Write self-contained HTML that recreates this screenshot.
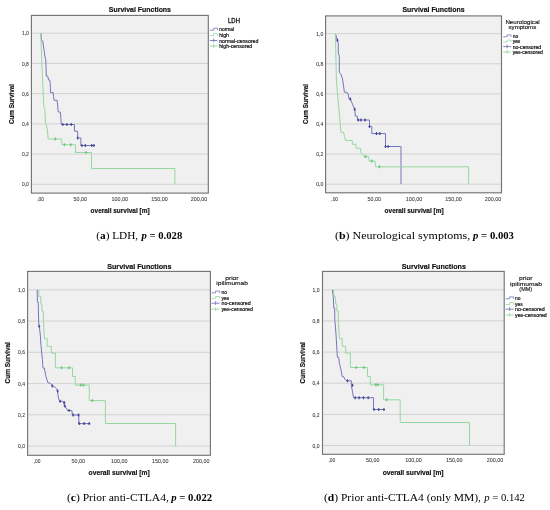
<!DOCTYPE html><html><head><meta charset="utf-8"><style>html,body{margin:0;padding:0;background:#fff;width:550px;height:510px;overflow:hidden}svg{display:block;filter:blur(0.5px)}text{font-family:"Liberation Sans", sans-serif}</style></head><body>
<svg width="550" height="510" viewBox="0 0 550 510">
<rect width="550" height="510" fill="#ffffff"/>
<rect x="31.4" y="15.4" width="176.9" height="177.7" fill="#f0f0f0"/>
<line x1="31.4" y1="184.3" x2="208.3" y2="184.3" stroke="#d2d2d2" stroke-width="1"/>
<text x="28.9" y="186.4" font-size="5.2" text-anchor="end" font-weight="normal" fill="#3a3a3a" textLength="7.0" lengthAdjust="spacingAndGlyphs" stroke="#3a3a3a" stroke-width="0.08">0,0</text>
<line x1="31.4" y1="154.1" x2="208.3" y2="154.1" stroke="#d2d2d2" stroke-width="1"/>
<text x="28.9" y="156.2" font-size="5.2" text-anchor="end" font-weight="normal" fill="#3a3a3a" textLength="7.0" lengthAdjust="spacingAndGlyphs" stroke="#3a3a3a" stroke-width="0.08">0,2</text>
<line x1="31.4" y1="123.9" x2="208.3" y2="123.9" stroke="#d2d2d2" stroke-width="1"/>
<text x="28.9" y="126.0" font-size="5.2" text-anchor="end" font-weight="normal" fill="#3a3a3a" textLength="7.0" lengthAdjust="spacingAndGlyphs" stroke="#3a3a3a" stroke-width="0.08">0,4</text>
<line x1="31.4" y1="93.6" x2="208.3" y2="93.6" stroke="#d2d2d2" stroke-width="1"/>
<text x="28.9" y="95.7" font-size="5.2" text-anchor="end" font-weight="normal" fill="#3a3a3a" textLength="7.0" lengthAdjust="spacingAndGlyphs" stroke="#3a3a3a" stroke-width="0.08">0,6</text>
<line x1="31.4" y1="63.4" x2="208.3" y2="63.4" stroke="#d2d2d2" stroke-width="1"/>
<text x="28.9" y="65.5" font-size="5.2" text-anchor="end" font-weight="normal" fill="#3a3a3a" textLength="7.0" lengthAdjust="spacingAndGlyphs" stroke="#3a3a3a" stroke-width="0.08">0,8</text>
<line x1="31.4" y1="33.2" x2="208.3" y2="33.2" stroke="#d2d2d2" stroke-width="1"/>
<text x="28.9" y="35.3" font-size="5.2" text-anchor="end" font-weight="normal" fill="#3a3a3a" textLength="7.0" lengthAdjust="spacingAndGlyphs" stroke="#3a3a3a" stroke-width="0.08">1,0</text>
<text x="40.6" y="200.5" font-size="5.5" text-anchor="middle" font-weight="normal" fill="#3a3a3a" textLength="6.8" lengthAdjust="spacingAndGlyphs" stroke="#3a3a3a" stroke-width="0.08">,00</text>
<text x="80.2" y="200.5" font-size="5.5" text-anchor="middle" font-weight="normal" fill="#3a3a3a" textLength="13.5" lengthAdjust="spacingAndGlyphs" stroke="#3a3a3a" stroke-width="0.08">50,00</text>
<text x="119.8" y="200.5" font-size="5.5" text-anchor="middle" font-weight="normal" fill="#3a3a3a" textLength="16.5" lengthAdjust="spacingAndGlyphs" stroke="#3a3a3a" stroke-width="0.08">100,00</text>
<text x="159.5" y="200.5" font-size="5.5" text-anchor="middle" font-weight="normal" fill="#3a3a3a" textLength="16.5" lengthAdjust="spacingAndGlyphs" stroke="#3a3a3a" stroke-width="0.08">150,00</text>
<text x="199.1" y="200.5" font-size="5.5" text-anchor="middle" font-weight="normal" fill="#3a3a3a" textLength="16.5" lengthAdjust="spacingAndGlyphs" stroke="#3a3a3a" stroke-width="0.08">200,00</text>
<rect x="31.4" y="15.4" width="176.9" height="177.7" fill="none" stroke="#707070" stroke-width="1.1"/>
<path d="M40.9,33.2 L41.3,37 L41.6,41 H42.8 L43.3,45 L44.3,52 L45,57 L45.8,60 L46.3,76 H47.7 L48.5,80 H49.7 L50.3,84 L50.5,92.4 H53.1 L53.5,96.3 L54.1,100.3 H57.1 L57.6,105 L58.2,112 H60.3 L60.9,118.5 L61.3,124.5 H74.5 V131.2 H77.7 V138 H80.9 V145.5 H94.5" fill="none" stroke="#7676bc" stroke-width="1" stroke-linejoin="miter"/>
<path d="M62.8,123.0 V126.0 M61.699999999999996,124.5 H63.9" stroke="#46469a" stroke-width="1.1"/>
<path d="M66.9,123.0 V126.0 M65.80000000000001,124.5 H68.0" stroke="#46469a" stroke-width="1.1"/>
<path d="M71.3,123.0 V126.0 M70.2,124.5 H72.39999999999999" stroke="#46469a" stroke-width="1.1"/>
<path d="M77.7,136.5 V139.5 M76.60000000000001,138 H78.8" stroke="#46469a" stroke-width="1.1"/>
<path d="M81.9,144.0 V147.0 M80.80000000000001,145.5 H83.0" stroke="#46469a" stroke-width="1.1"/>
<path d="M85.3,144.0 V147.0 M84.2,145.5 H86.39999999999999" stroke="#46469a" stroke-width="1.1"/>
<path d="M91.7,144.0 V147.0 M90.60000000000001,145.5 H92.8" stroke="#46469a" stroke-width="1.1"/>
<path d="M93.9,144.0 V147.0 M92.80000000000001,145.5 H95.0" stroke="#46469a" stroke-width="1.1"/>
<path d="M40.8,33.2 L41.7,60 L43.8,106.7 L44.7,108.3 L45.5,123.3 L46.3,125 L47.2,128.3 L48.2,139 H61.8 V144.7 H75.5 V152.5 H91.5 V168.5 H174.9 V184.3" fill="none" stroke="#96d8a2" stroke-width="1" stroke-linejoin="miter"/>
<path d="M55.3,137.5 V140.5 M54.199999999999996,139 H56.4" stroke="#6cc47e" stroke-width="1.1"/>
<path d="M64.4,143.2 V146.2 M63.300000000000004,144.7 H65.5" stroke="#6cc47e" stroke-width="1.1"/>
<path d="M70.8,143.2 V146.2 M69.7,144.7 H71.89999999999999" stroke="#6cc47e" stroke-width="1.1"/>
<path d="M86.2,151.0 V154.0 M85.10000000000001,152.5 H87.3" stroke="#6cc47e" stroke-width="1.1"/>
<text x="108.8" y="12.3" font-size="7.8" text-anchor="start" font-weight="bold" fill="#111" textLength="62.2" lengthAdjust="spacingAndGlyphs" stroke="#111" stroke-width="0.2">Survival Functions</text>
<text x="90.6" y="212.6" font-size="6.3" text-anchor="start" font-weight="bold" fill="#111" textLength="59.0" lengthAdjust="spacingAndGlyphs" stroke="#111" stroke-width="0.16">overall survival [m]</text>
<text x="0" y="0" font-size="6.3" font-weight="bold" fill="#111" stroke="#111" stroke-width="0.16" text-anchor="middle" textLength="40.0" lengthAdjust="spacingAndGlyphs" transform="translate(14.2,104.0) rotate(-90)">Cum Survival</text>
<text x="228.1" y="22.9" font-size="6.3" text-anchor="start" font-weight="normal" fill="#111" textLength="11.8" lengthAdjust="spacingAndGlyphs" stroke="#111" stroke-width="0.3">LDH</text>
<path d="M209.9,30.2 H213.7 V28.3 H217.5 V30.3" fill="none" stroke="#7676bc" stroke-width="0.8"/>
<text x="219.2" y="31.4" font-size="5.4" text-anchor="start" font-weight="normal" fill="#111" textLength="15.0" lengthAdjust="spacingAndGlyphs" stroke="#111" stroke-width="0.2">normal</text>
<path d="M209.9,35.6 H213.7 V33.7 H217.5 V35.7" fill="none" stroke="#96d8a2" stroke-width="0.8"/>
<text x="219.2" y="36.8" font-size="5.4" text-anchor="start" font-weight="normal" fill="#111" textLength="9.8" lengthAdjust="spacingAndGlyphs" stroke="#111" stroke-width="0.2">high</text>
<path d="M209.9,40.5 H217.5 M213.7,38.5 V42.2" fill="none" stroke="#7676bc" stroke-width="0.9"/>
<text x="219.2" y="42.6" font-size="5.4" text-anchor="start" font-weight="normal" fill="#111" textLength="39.2" lengthAdjust="spacingAndGlyphs" stroke="#111" stroke-width="0.2">normal-censored</text>
<path d="M209.9,46.1 H217.5 M213.7,44.1 V47.800000000000004" fill="none" stroke="#96d8a2" stroke-width="0.9"/>
<text x="219.2" y="48.2" font-size="5.4" text-anchor="start" font-weight="normal" fill="#111" textLength="33.0" lengthAdjust="spacingAndGlyphs" stroke="#111" stroke-width="0.2">high-censored</text>
<rect x="325.6" y="15.9" width="175.9" height="176.9" fill="#f0f0f0"/>
<line x1="325.6" y1="184.2" x2="501.5" y2="184.2" stroke="#d2d2d2" stroke-width="1"/>
<text x="323.3" y="186.3" font-size="5.2" text-anchor="end" font-weight="normal" fill="#3a3a3a" textLength="7.0" lengthAdjust="spacingAndGlyphs" stroke="#3a3a3a" stroke-width="0.08">0,0</text>
<line x1="325.6" y1="154.1" x2="501.5" y2="154.1" stroke="#d2d2d2" stroke-width="1"/>
<text x="323.3" y="156.2" font-size="5.2" text-anchor="end" font-weight="normal" fill="#3a3a3a" textLength="7.0" lengthAdjust="spacingAndGlyphs" stroke="#3a3a3a" stroke-width="0.08">0,2</text>
<line x1="325.6" y1="124.0" x2="501.5" y2="124.0" stroke="#d2d2d2" stroke-width="1"/>
<text x="323.3" y="126.1" font-size="5.2" text-anchor="end" font-weight="normal" fill="#3a3a3a" textLength="7.0" lengthAdjust="spacingAndGlyphs" stroke="#3a3a3a" stroke-width="0.08">0,4</text>
<line x1="325.6" y1="93.9" x2="501.5" y2="93.9" stroke="#d2d2d2" stroke-width="1"/>
<text x="323.3" y="96.0" font-size="5.2" text-anchor="end" font-weight="normal" fill="#3a3a3a" textLength="7.0" lengthAdjust="spacingAndGlyphs" stroke="#3a3a3a" stroke-width="0.08">0,6</text>
<line x1="325.6" y1="63.8" x2="501.5" y2="63.8" stroke="#d2d2d2" stroke-width="1"/>
<text x="323.3" y="65.9" font-size="5.2" text-anchor="end" font-weight="normal" fill="#3a3a3a" textLength="7.0" lengthAdjust="spacingAndGlyphs" stroke="#3a3a3a" stroke-width="0.08">0,8</text>
<line x1="325.6" y1="33.7" x2="501.5" y2="33.7" stroke="#d2d2d2" stroke-width="1"/>
<text x="323.3" y="35.8" font-size="5.2" text-anchor="end" font-weight="normal" fill="#3a3a3a" textLength="7.0" lengthAdjust="spacingAndGlyphs" stroke="#3a3a3a" stroke-width="0.08">1,0</text>
<text x="334.7" y="200.5" font-size="5.5" text-anchor="middle" font-weight="normal" fill="#3a3a3a" textLength="6.8" lengthAdjust="spacingAndGlyphs" stroke="#3a3a3a" stroke-width="0.08">,00</text>
<text x="374.3" y="200.5" font-size="5.5" text-anchor="middle" font-weight="normal" fill="#3a3a3a" textLength="13.5" lengthAdjust="spacingAndGlyphs" stroke="#3a3a3a" stroke-width="0.08">50,00</text>
<text x="413.9" y="200.5" font-size="5.5" text-anchor="middle" font-weight="normal" fill="#3a3a3a" textLength="16.5" lengthAdjust="spacingAndGlyphs" stroke="#3a3a3a" stroke-width="0.08">100,00</text>
<text x="453.4" y="200.5" font-size="5.5" text-anchor="middle" font-weight="normal" fill="#3a3a3a" textLength="16.5" lengthAdjust="spacingAndGlyphs" stroke="#3a3a3a" stroke-width="0.08">150,00</text>
<text x="493.0" y="200.5" font-size="5.5" text-anchor="middle" font-weight="normal" fill="#3a3a3a" textLength="16.5" lengthAdjust="spacingAndGlyphs" stroke="#3a3a3a" stroke-width="0.08">200,00</text>
<rect x="325.6" y="15.9" width="175.9" height="176.9" fill="none" stroke="#707070" stroke-width="1.1"/>
<path d="M335.4,33.7 L337.4,40.3 L338.3,44 L338.3,53 L339.3,56 L339.3,72.2 L341.3,75 L342.7,80 L344.4,92.2 H345.8 L347.8,93 L349.2,99 H350.3 L352,103 L354.7,109.3 L355.4,116.2 H357.4 V120 H369.5 V126.5 H371.8 V133.6 H385.5 V146.5 H401 V184.2" fill="none" stroke="#7676bc" stroke-width="1" stroke-linejoin="miter"/>
<path d="M337.4,38.8 V41.8 M336.29999999999995,40.3 H338.5" stroke="#46469a" stroke-width="1.1"/>
<path d="M350.3,97.5 V100.5 M349.2,99 H351.40000000000003" stroke="#46469a" stroke-width="1.1"/>
<path d="M354.7,107.8 V110.8 M353.59999999999997,109.3 H355.8" stroke="#46469a" stroke-width="1.1"/>
<path d="M358.1,118.5 V121.5 M357.0,120 H359.20000000000005" stroke="#46469a" stroke-width="1.1"/>
<path d="M360.9,118.5 V121.5 M359.79999999999995,120 H362.0" stroke="#46469a" stroke-width="1.1"/>
<path d="M365,118.5 V121.5 M363.9,120 H366.1" stroke="#46469a" stroke-width="1.1"/>
<path d="M369.5,125.0 V128.0 M368.4,126.5 H370.6" stroke="#46469a" stroke-width="1.1"/>
<path d="M376.5,132.1 V135.1 M375.4,133.6 H377.6" stroke="#46469a" stroke-width="1.1"/>
<path d="M379.8,132.1 V135.1 M378.7,133.6 H380.90000000000003" stroke="#46469a" stroke-width="1.1"/>
<path d="M385.5,145.0 V148.0 M384.4,146.5 H386.6" stroke="#46469a" stroke-width="1.1"/>
<path d="M388.2,145.0 V148.0 M387.09999999999997,146.5 H389.3" stroke="#46469a" stroke-width="1.1"/>
<path d="M335.4,33.7 L336.4,80 L337.5,93.5 L339.6,116.2 L340.9,132.3 H343.6 L344.5,136.4 L345.5,140.5 H352.3 V144.3 H355.9 L356.4,148.4 H360.5 L360.9,152.3 L362.7,154.5 L364.1,156.6 H368.6 L369.1,161.1 H375 L375.5,166.8 H468.6 V184.2" fill="none" stroke="#96d8a2" stroke-width="1" stroke-linejoin="miter"/>
<path d="M365.5,155.1 V158.1 M364.4,156.6 H366.6" stroke="#6cc47e" stroke-width="1.1"/>
<path d="M371.8,159.6 V162.6 M370.7,161.1 H372.90000000000003" stroke="#6cc47e" stroke-width="1.1"/>
<path d="M379.5,165.3 V168.3 M378.4,166.8 H380.6" stroke="#6cc47e" stroke-width="1.1"/>
<text x="402.5" y="12.3" font-size="7.8" text-anchor="start" font-weight="bold" fill="#111" textLength="62.0" lengthAdjust="spacingAndGlyphs" stroke="#111" stroke-width="0.2">Survival Functions</text>
<text x="384.6" y="212.6" font-size="6.3" text-anchor="start" font-weight="bold" fill="#111" textLength="59.0" lengthAdjust="spacingAndGlyphs" stroke="#111" stroke-width="0.16">overall survival [m]</text>
<text x="0" y="0" font-size="6.3" font-weight="bold" fill="#111" stroke="#111" stroke-width="0.16" text-anchor="middle" textLength="40.0" lengthAdjust="spacingAndGlyphs" transform="translate(308.2,104.0) rotate(-90)">Cum Survival</text>
<text x="505.4" y="23.7" font-size="6.05" text-anchor="start" font-weight="normal" fill="#111" textLength="34.3" lengthAdjust="spacingAndGlyphs" stroke="#111" stroke-width="0.13">Neurological</text>
<text x="508.6" y="29.3" font-size="6.05" text-anchor="start" font-weight="normal" fill="#111" textLength="27.6" lengthAdjust="spacingAndGlyphs" stroke="#111" stroke-width="0.13">symptoms</text>
<path d="M503.2,36.8 H507.1 V34.9 H511.0 V36.9" fill="none" stroke="#7676bc" stroke-width="0.8"/>
<text x="512.7" y="38.0" font-size="5.4" text-anchor="start" font-weight="normal" fill="#111" textLength="5.5" lengthAdjust="spacingAndGlyphs" stroke="#111" stroke-width="0.2">no</text>
<path d="M503.2,42.0 H507.1 V40.1 H511.0 V42.1" fill="none" stroke="#96d8a2" stroke-width="0.8"/>
<text x="512.7" y="43.2" font-size="5.4" text-anchor="start" font-weight="normal" fill="#111" textLength="7.6" lengthAdjust="spacingAndGlyphs" stroke="#111" stroke-width="0.2">yes</text>
<path d="M503.2,46.6 H511.0 M507.1,44.6 V48.300000000000004" fill="none" stroke="#7676bc" stroke-width="0.9"/>
<text x="512.7" y="48.7" font-size="5.4" text-anchor="start" font-weight="normal" fill="#111" textLength="28.4" lengthAdjust="spacingAndGlyphs" stroke="#111" stroke-width="0.2">no-censored</text>
<path d="M503.2,52.0 H511.0 M507.1,50.0 V53.7" fill="none" stroke="#96d8a2" stroke-width="0.9"/>
<text x="512.7" y="54.1" font-size="5.4" text-anchor="start" font-weight="normal" fill="#111" textLength="30.2" lengthAdjust="spacingAndGlyphs" stroke="#111" stroke-width="0.2">yes-censored</text>
<rect x="27.6" y="271.4" width="182.8" height="183.9" fill="#f0f0f0"/>
<line x1="27.6" y1="446.1" x2="210.4" y2="446.1" stroke="#d2d2d2" stroke-width="1"/>
<text x="25.0" y="448.2" font-size="5.2" text-anchor="end" font-weight="normal" fill="#3a3a3a" textLength="7.0" lengthAdjust="spacingAndGlyphs" stroke="#3a3a3a" stroke-width="0.08">0,0</text>
<line x1="27.6" y1="414.8" x2="210.4" y2="414.8" stroke="#d2d2d2" stroke-width="1"/>
<text x="25.0" y="416.9" font-size="5.2" text-anchor="end" font-weight="normal" fill="#3a3a3a" textLength="7.0" lengthAdjust="spacingAndGlyphs" stroke="#3a3a3a" stroke-width="0.08">0,2</text>
<line x1="27.6" y1="383.6" x2="210.4" y2="383.6" stroke="#d2d2d2" stroke-width="1"/>
<text x="25.0" y="385.7" font-size="5.2" text-anchor="end" font-weight="normal" fill="#3a3a3a" textLength="7.0" lengthAdjust="spacingAndGlyphs" stroke="#3a3a3a" stroke-width="0.08">0,4</text>
<line x1="27.6" y1="352.3" x2="210.4" y2="352.3" stroke="#d2d2d2" stroke-width="1"/>
<text x="25.0" y="354.4" font-size="5.2" text-anchor="end" font-weight="normal" fill="#3a3a3a" textLength="7.0" lengthAdjust="spacingAndGlyphs" stroke="#3a3a3a" stroke-width="0.08">0,6</text>
<line x1="27.6" y1="321.1" x2="210.4" y2="321.1" stroke="#d2d2d2" stroke-width="1"/>
<text x="25.0" y="323.2" font-size="5.2" text-anchor="end" font-weight="normal" fill="#3a3a3a" textLength="7.0" lengthAdjust="spacingAndGlyphs" stroke="#3a3a3a" stroke-width="0.08">0,8</text>
<line x1="27.6" y1="289.8" x2="210.4" y2="289.8" stroke="#d2d2d2" stroke-width="1"/>
<text x="25.0" y="291.9" font-size="5.2" text-anchor="end" font-weight="normal" fill="#3a3a3a" textLength="7.0" lengthAdjust="spacingAndGlyphs" stroke="#3a3a3a" stroke-width="0.08">1,0</text>
<text x="37.1" y="462.5" font-size="5.5" text-anchor="middle" font-weight="normal" fill="#3a3a3a" textLength="6.8" lengthAdjust="spacingAndGlyphs" stroke="#3a3a3a" stroke-width="0.08">,00</text>
<text x="78.2" y="462.5" font-size="5.5" text-anchor="middle" font-weight="normal" fill="#3a3a3a" textLength="13.5" lengthAdjust="spacingAndGlyphs" stroke="#3a3a3a" stroke-width="0.08">50,00</text>
<text x="119.2" y="462.5" font-size="5.5" text-anchor="middle" font-weight="normal" fill="#3a3a3a" textLength="16.5" lengthAdjust="spacingAndGlyphs" stroke="#3a3a3a" stroke-width="0.08">100,00</text>
<text x="160.2" y="462.5" font-size="5.5" text-anchor="middle" font-weight="normal" fill="#3a3a3a" textLength="16.5" lengthAdjust="spacingAndGlyphs" stroke="#3a3a3a" stroke-width="0.08">150,00</text>
<text x="201.3" y="462.5" font-size="5.5" text-anchor="middle" font-weight="normal" fill="#3a3a3a" textLength="16.5" lengthAdjust="spacingAndGlyphs" stroke="#3a3a3a" stroke-width="0.08">200,00</text>
<rect x="27.6" y="271.4" width="182.8" height="183.9" fill="none" stroke="#707070" stroke-width="1.1"/>
<path d="M37.2,289.8 L37.4,302 H38.2 L38.5,315 L38.8,324.2 L39.3,326.2 L40.3,335 L41,345.6 L42.4,359.3 L43,368.2 H44.4 L45.8,375.8 L47.8,382.6 L50.5,383.4 L52.5,385.8 L54.6,386.9 L56.7,388.9 L57.6,391 L58,395.1 L58.7,399.2 L60.1,401.3 H62.8 L64.2,402.6 V405.4 L66.3,408.1 L67.6,410.5 H71.8 L72.4,415 H78.8 V423.6 H89.6" fill="none" stroke="#7676bc" stroke-width="1" stroke-linejoin="miter"/>
<path d="M39.2,324.8 V327.8 M38.1,326.3 H40.300000000000004" stroke="#46469a" stroke-width="1.1"/>
<path d="M52.3,384.5 V387.5 M51.199999999999996,386 H53.4" stroke="#46469a" stroke-width="1.1"/>
<path d="M57.6,389.5 V392.5 M56.5,391 H58.7" stroke="#46469a" stroke-width="1.1"/>
<path d="M60.1,399.8 V402.8 M59.0,401.3 H61.2" stroke="#46469a" stroke-width="1.1"/>
<path d="M64.2,401.1 V404.1 M63.1,402.6 H65.3" stroke="#46469a" stroke-width="1.1"/>
<path d="M64.9,404.6 V407.6 M63.800000000000004,406.1 H66.0" stroke="#46469a" stroke-width="1.1"/>
<path d="M69,409.0 V412.0 M67.9,410.5 H70.1" stroke="#46469a" stroke-width="1.1"/>
<path d="M73.1,413.5 V416.5 M72.0,415 H74.19999999999999" stroke="#46469a" stroke-width="1.1"/>
<path d="M78.6,413.5 V416.5 M77.5,415 H79.69999999999999" stroke="#46469a" stroke-width="1.1"/>
<path d="M79.3,422.1 V425.1 M78.2,423.6 H80.39999999999999" stroke="#46469a" stroke-width="1.1"/>
<path d="M84.1,422.1 V425.1 M83.0,423.6 H85.19999999999999" stroke="#46469a" stroke-width="1.1"/>
<path d="M89.2,422.1 V425.1 M88.10000000000001,423.6 H90.3" stroke="#46469a" stroke-width="1.1"/>
<path d="M38.8,289.8 V296.4 H40.6 L40.9,304 H41.8 L42,311.2 H43.2 L43.7,326.2 L44.4,338.7 H47.2 V346.3 H51.3 V353.1 H55.4 V367.8 H72.5 V376.5 H75.3 V385.1 H89.3 V400.6 H105.4 V423.5 H175.6 V446.1" fill="none" stroke="#96d8a2" stroke-width="1" stroke-linejoin="miter"/>
<path d="M61.6,366.3 V369.3 M60.5,367.8 H62.7" stroke="#6cc47e" stroke-width="1.1"/>
<path d="M69.1,366.3 V369.3 M68.0,367.8 H70.19999999999999" stroke="#6cc47e" stroke-width="1.1"/>
<path d="M80.8,383.6 V386.6 M79.7,385.1 H81.89999999999999" stroke="#6cc47e" stroke-width="1.1"/>
<path d="M83.4,383.6 V386.6 M82.30000000000001,385.1 H84.5" stroke="#6cc47e" stroke-width="1.1"/>
<path d="M92.4,399.1 V402.1 M91.30000000000001,400.6 H93.5" stroke="#6cc47e" stroke-width="1.1"/>
<text x="107.2" y="268.6" font-size="7.8" text-anchor="start" font-weight="bold" fill="#111" textLength="64.3" lengthAdjust="spacingAndGlyphs" stroke="#111" stroke-width="0.2">Survival Functions</text>
<text x="88.6" y="475.3" font-size="6.3" text-anchor="start" font-weight="bold" fill="#111" textLength="61.1" lengthAdjust="spacingAndGlyphs" stroke="#111" stroke-width="0.16">overall survival [m]</text>
<text x="0" y="0" font-size="6.3" font-weight="bold" fill="#111" stroke="#111" stroke-width="0.16" text-anchor="middle" textLength="41.4" lengthAdjust="spacingAndGlyphs" transform="translate(9.7,362.8) rotate(-90)">Cum Survival</text>
<text x="225.3" y="280.1" font-size="6.05" text-anchor="start" font-weight="normal" fill="#111" textLength="13.2" lengthAdjust="spacingAndGlyphs" stroke="#111" stroke-width="0.13">prior</text>
<text x="216.3" y="285.3" font-size="6.05" text-anchor="start" font-weight="normal" fill="#111" textLength="31.7" lengthAdjust="spacingAndGlyphs" stroke="#111" stroke-width="0.13">ipilimumab</text>
<path d="M211.6,292.9 H215.64999999999998 V291.0 H219.7 V293.0" fill="none" stroke="#7676bc" stroke-width="0.8"/>
<text x="221.5" y="294.1" font-size="5.4" text-anchor="start" font-weight="normal" fill="#111" textLength="5.5" lengthAdjust="spacingAndGlyphs" stroke="#111" stroke-width="0.2">no</text>
<path d="M211.6,298.4 H215.64999999999998 V296.5 H219.7 V298.5" fill="none" stroke="#96d8a2" stroke-width="0.8"/>
<text x="221.5" y="299.6" font-size="5.4" text-anchor="start" font-weight="normal" fill="#111" textLength="7.6" lengthAdjust="spacingAndGlyphs" stroke="#111" stroke-width="0.2">yes</text>
<path d="M211.6,303.2 H219.7 M215.64999999999998,301.2 V304.9" fill="none" stroke="#7676bc" stroke-width="0.9"/>
<text x="221.5" y="305.3" font-size="5.4" text-anchor="start" font-weight="normal" fill="#111" textLength="29.2" lengthAdjust="spacingAndGlyphs" stroke="#111" stroke-width="0.2">no-censored</text>
<path d="M211.6,309.2 H219.7 M215.64999999999998,307.2 V310.9" fill="none" stroke="#96d8a2" stroke-width="0.9"/>
<text x="221.5" y="311.3" font-size="5.4" text-anchor="start" font-weight="normal" fill="#111" textLength="31.3" lengthAdjust="spacingAndGlyphs" stroke="#111" stroke-width="0.2">yes-censored</text>
<rect x="322.5" y="271.4" width="181.7" height="182.9" fill="#f0f0f0"/>
<line x1="322.5" y1="445.5" x2="504.2" y2="445.5" stroke="#d2d2d2" stroke-width="1"/>
<text x="319.5" y="447.6" font-size="5.2" text-anchor="end" font-weight="normal" fill="#3a3a3a" textLength="7.0" lengthAdjust="spacingAndGlyphs" stroke="#3a3a3a" stroke-width="0.08">0,0</text>
<line x1="322.5" y1="414.4" x2="504.2" y2="414.4" stroke="#d2d2d2" stroke-width="1"/>
<text x="319.5" y="416.5" font-size="5.2" text-anchor="end" font-weight="normal" fill="#3a3a3a" textLength="7.0" lengthAdjust="spacingAndGlyphs" stroke="#3a3a3a" stroke-width="0.08">0,2</text>
<line x1="322.5" y1="383.2" x2="504.2" y2="383.2" stroke="#d2d2d2" stroke-width="1"/>
<text x="319.5" y="385.3" font-size="5.2" text-anchor="end" font-weight="normal" fill="#3a3a3a" textLength="7.0" lengthAdjust="spacingAndGlyphs" stroke="#3a3a3a" stroke-width="0.08">0,4</text>
<line x1="322.5" y1="352.1" x2="504.2" y2="352.1" stroke="#d2d2d2" stroke-width="1"/>
<text x="319.5" y="354.2" font-size="5.2" text-anchor="end" font-weight="normal" fill="#3a3a3a" textLength="7.0" lengthAdjust="spacingAndGlyphs" stroke="#3a3a3a" stroke-width="0.08">0,6</text>
<line x1="322.5" y1="320.9" x2="504.2" y2="320.9" stroke="#d2d2d2" stroke-width="1"/>
<text x="319.5" y="323.0" font-size="5.2" text-anchor="end" font-weight="normal" fill="#3a3a3a" textLength="7.0" lengthAdjust="spacingAndGlyphs" stroke="#3a3a3a" stroke-width="0.08">0,8</text>
<line x1="322.5" y1="289.8" x2="504.2" y2="289.8" stroke="#d2d2d2" stroke-width="1"/>
<text x="319.5" y="291.9" font-size="5.2" text-anchor="end" font-weight="normal" fill="#3a3a3a" textLength="7.0" lengthAdjust="spacingAndGlyphs" stroke="#3a3a3a" stroke-width="0.08">1,0</text>
<text x="331.9" y="462.0" font-size="5.5" text-anchor="middle" font-weight="normal" fill="#3a3a3a" textLength="6.8" lengthAdjust="spacingAndGlyphs" stroke="#3a3a3a" stroke-width="0.08">,00</text>
<text x="372.7" y="462.0" font-size="5.5" text-anchor="middle" font-weight="normal" fill="#3a3a3a" textLength="13.5" lengthAdjust="spacingAndGlyphs" stroke="#3a3a3a" stroke-width="0.08">50,00</text>
<text x="413.4" y="462.0" font-size="5.5" text-anchor="middle" font-weight="normal" fill="#3a3a3a" textLength="16.5" lengthAdjust="spacingAndGlyphs" stroke="#3a3a3a" stroke-width="0.08">100,00</text>
<text x="454.2" y="462.0" font-size="5.5" text-anchor="middle" font-weight="normal" fill="#3a3a3a" textLength="16.5" lengthAdjust="spacingAndGlyphs" stroke="#3a3a3a" stroke-width="0.08">150,00</text>
<text x="495.0" y="462.0" font-size="5.5" text-anchor="middle" font-weight="normal" fill="#3a3a3a" textLength="16.5" lengthAdjust="spacingAndGlyphs" stroke="#3a3a3a" stroke-width="0.08">200,00</text>
<rect x="322.5" y="271.4" width="181.7" height="182.9" fill="none" stroke="#707070" stroke-width="1.1"/>
<path d="M332.4,289.8 L333.3,296.8 L333.8,308 H334.6 L334.8,320.3 L335.3,325 L336,334.6 L337.4,357.3 H338.7 L339.4,363.4 L340.8,368.9 L342.2,376.5 H343.5 L344.9,379.2 L346.5,380.8 H351.3 V385.2 L353.6,397.7 H373.5 V409.5 H384.2" fill="none" stroke="#7676bc" stroke-width="1" stroke-linejoin="miter"/>
<path d="M347.4,379.3 V382.3 M346.29999999999995,380.8 H348.5" stroke="#46469a" stroke-width="1.1"/>
<path d="M352.5,383.7 V386.7 M351.4,385.2 H353.6" stroke="#46469a" stroke-width="1.1"/>
<path d="M355.2,396.2 V399.2 M354.09999999999997,397.7 H356.3" stroke="#46469a" stroke-width="1.1"/>
<path d="M359.1,396.2 V399.2 M358.0,397.7 H360.20000000000005" stroke="#46469a" stroke-width="1.1"/>
<path d="M363.5,396.2 V399.2 M362.4,397.7 H364.6" stroke="#46469a" stroke-width="1.1"/>
<path d="M368.2,396.2 V399.2 M367.09999999999997,397.7 H369.3" stroke="#46469a" stroke-width="1.1"/>
<path d="M374,408.0 V411.0 M372.9,409.5 H375.1" stroke="#46469a" stroke-width="1.1"/>
<path d="M378.7,408.0 V411.0 M377.59999999999997,409.5 H379.8" stroke="#46469a" stroke-width="1.1"/>
<path d="M383.9,408.0 V411.0 M382.79999999999995,409.5 H385.0" stroke="#46469a" stroke-width="1.1"/>
<path d="M333.3,289.8 L334.3,296.8 H335.3 L335.8,304.1 H336.8 V311 H338.2 L338.5,325 L339.4,338.7 H342.2 V346.3 H345.6 V353.1 H350.4 V367.5 H367.5 V376.5 H370.3 V384.8 H383.6 V399.8 H400.2 V422.5 H469.5 V445.5" fill="none" stroke="#96d8a2" stroke-width="1" stroke-linejoin="miter"/>
<path d="M356.3,366.0 V369.0 M355.2,367.5 H357.40000000000003" stroke="#6cc47e" stroke-width="1.1"/>
<path d="M363.8,366.0 V369.0 M362.7,367.5 H364.90000000000003" stroke="#6cc47e" stroke-width="1.1"/>
<path d="M375.8,383.3 V386.3 M374.7,384.8 H376.90000000000003" stroke="#6cc47e" stroke-width="1.1"/>
<path d="M377.8,383.3 V386.3 M376.7,384.8 H378.90000000000003" stroke="#6cc47e" stroke-width="1.1"/>
<path d="M386.6,398.3 V401.3 M385.5,399.8 H387.70000000000005" stroke="#6cc47e" stroke-width="1.1"/>
<text x="401.8" y="268.6" font-size="7.8" text-anchor="start" font-weight="bold" fill="#111" textLength="64.1" lengthAdjust="spacingAndGlyphs" stroke="#111" stroke-width="0.2">Survival Functions</text>
<text x="382.7" y="474.6" font-size="6.3" text-anchor="start" font-weight="bold" fill="#111" textLength="60.9" lengthAdjust="spacingAndGlyphs" stroke="#111" stroke-width="0.16">overall survival [m]</text>
<text x="0" y="0" font-size="6.3" font-weight="bold" fill="#111" stroke="#111" stroke-width="0.16" text-anchor="middle" textLength="41.4" lengthAdjust="spacingAndGlyphs" transform="translate(304.7,362.8) rotate(-90)">Cum Survival</text>
<text x="519.1" y="280.2" font-size="6.05" text-anchor="start" font-weight="normal" fill="#111" textLength="13.5" lengthAdjust="spacingAndGlyphs" stroke="#111" stroke-width="0.13">prior</text>
<text x="510.0" y="285.5" font-size="6.05" text-anchor="start" font-weight="normal" fill="#111" textLength="32.0" lengthAdjust="spacingAndGlyphs" stroke="#111" stroke-width="0.13">ipilimumab</text>
<text x="519.3" y="290.6" font-size="5.7" text-anchor="start" font-weight="normal" fill="#111" textLength="12.9" lengthAdjust="spacingAndGlyphs" stroke="#111" stroke-width="0.13">(MM)</text>
<path d="M505.6,298.79999999999995 H509.6 V296.9 H513.6 V298.9" fill="none" stroke="#7676bc" stroke-width="0.8"/>
<text x="515.0" y="300.0" font-size="5.4" text-anchor="start" font-weight="normal" fill="#111" textLength="5.5" lengthAdjust="spacingAndGlyphs" stroke="#111" stroke-width="0.2">no</text>
<path d="M505.6,304.5 H509.6 V302.6 H513.6 V304.6" fill="none" stroke="#96d8a2" stroke-width="0.8"/>
<text x="515.0" y="305.7" font-size="5.4" text-anchor="start" font-weight="normal" fill="#111" textLength="7.6" lengthAdjust="spacingAndGlyphs" stroke="#111" stroke-width="0.2">yes</text>
<path d="M505.6,309.2 H513.6 M509.6,307.2 V310.9" fill="none" stroke="#7676bc" stroke-width="0.9"/>
<text x="515.0" y="311.3" font-size="5.4" text-anchor="start" font-weight="normal" fill="#111" textLength="29.8" lengthAdjust="spacingAndGlyphs" stroke="#111" stroke-width="0.2">no-censored</text>
<path d="M505.6,315.0 H513.6 M509.6,313.0 V316.7" fill="none" stroke="#96d8a2" stroke-width="0.9"/>
<text x="515.0" y="317.1" font-size="5.4" text-anchor="start" font-weight="normal" fill="#111" textLength="31.8" lengthAdjust="spacingAndGlyphs" stroke="#111" stroke-width="0.2">yes-censored</text>
<text x="96.3" y="238.7" font-size="11" fill="#000" style="font-family:'Liberation Serif', serif" textLength="41.9" lengthAdjust="spacingAndGlyphs" xml:space="preserve"><tspan font-weight="normal" font-style="normal">(</tspan><tspan font-weight="bold" font-style="normal">a</tspan><tspan font-weight="normal" font-style="normal">) LDH,</tspan></text>
<text x="141.5" y="238.7" font-size="11" fill="#000" style="font-family:'Liberation Serif', serif" textLength="40.8" lengthAdjust="spacingAndGlyphs" xml:space="preserve"><tspan font-weight="bold" font-style="italic">p</tspan><tspan font-weight="bold" font-style="normal"> = 0.028</tspan></text>
<text x="334.9" y="238.6" font-size="11" fill="#000" style="font-family:'Liberation Serif', serif" textLength="135.3" lengthAdjust="spacingAndGlyphs" xml:space="preserve"><tspan font-weight="normal" font-style="normal">(</tspan><tspan font-weight="bold" font-style="normal">b</tspan><tspan font-weight="normal" font-style="normal">) Neurological symptoms,</tspan></text>
<text x="473.1" y="238.6" font-size="11" fill="#000" style="font-family:'Liberation Serif', serif" textLength="40.9" lengthAdjust="spacingAndGlyphs" xml:space="preserve"><tspan font-weight="bold" font-style="italic">p</tspan><tspan font-weight="bold" font-style="normal"> = 0.003</tspan></text>
<text x="66.9" y="500.8" font-size="11" fill="#000" style="font-family:'Liberation Serif', serif" textLength="102.0" lengthAdjust="spacingAndGlyphs" xml:space="preserve"><tspan font-weight="normal" font-style="normal">(</tspan><tspan font-weight="bold" font-style="normal">c</tspan><tspan font-weight="normal" font-style="normal">) Prior anti-CTLA4,</tspan></text>
<text x="171.3" y="500.8" font-size="11" fill="#000" style="font-family:'Liberation Serif', serif" textLength="40.8" lengthAdjust="spacingAndGlyphs" xml:space="preserve"><tspan font-weight="bold" font-style="italic">p</tspan><tspan font-weight="bold" font-style="normal"> = 0.022</tspan></text>
<text x="324.0" y="500.7" font-size="11" fill="#000" style="font-family:'Liberation Serif', serif" textLength="157.0" lengthAdjust="spacingAndGlyphs" xml:space="preserve"><tspan font-weight="normal" font-style="normal">(</tspan><tspan font-weight="bold" font-style="normal">d</tspan><tspan font-weight="normal" font-style="normal">) Prior anti-CTLA4 (only MM),</tspan></text>
<text x="484.2" y="500.7" font-size="11" fill="#000" style="font-family:'Liberation Serif', serif" textLength="40.7" lengthAdjust="spacingAndGlyphs" xml:space="preserve"><tspan font-weight="normal" font-style="italic">p</tspan><tspan font-weight="normal" font-style="normal"> = 0.142</tspan></text>
</svg></body></html>
